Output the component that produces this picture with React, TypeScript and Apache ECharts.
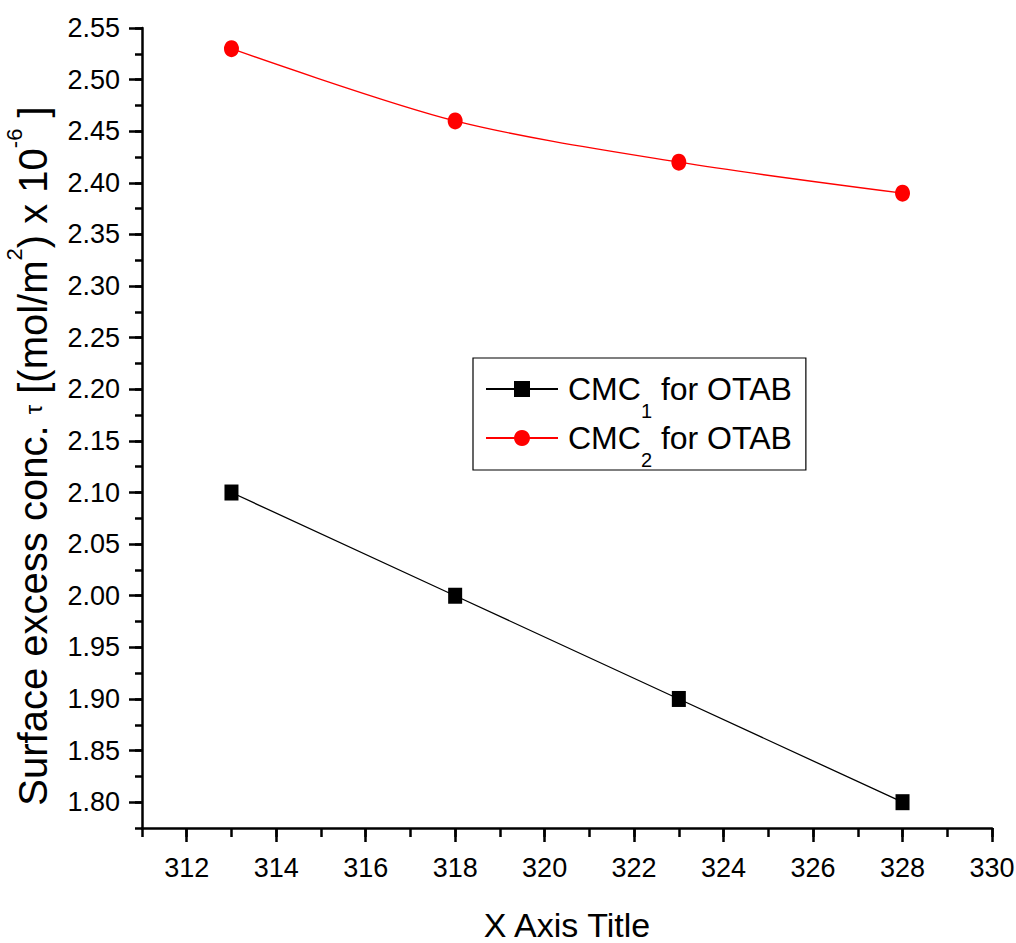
import React, { useEffect, useRef } from "react";
import * as echarts from "echarts";

const xValues = [313, 318, 323, 328];
const cmc1Values = [2.1, 2.0, 1.9, 1.8];
const cmc2Values = [2.53, 2.46, 2.42, 2.39];
const seriesNames = ["CMC1 for OTAB", "CMC2 for OTAB"];
const xMajorTicks = [312, 314, 316, 318, 320, 322, 324, 326, 328, 330];
const yMajorTicks = [1.8, 1.85, 1.9, 1.95, 2.0, 2.05, 2.1, 2.15, 2.2, 2.25, 2.3, 2.35, 2.4, 2.45, 2.5, 2.55];

const FONT = "'Liberation Sans', Arial, sans-serif";

export default function App() {
  const ref = useRef<HTMLDivElement>(null);
  useEffect(() => {
    const chart = echarts.init(ref.current!, null, { renderer: "svg" });
    const axisCommon = {
      axisLine: { show: true, lineStyle: { color: "#000", width: 2.5 } },
      splitLine: { show: false },
    };
    chart.setOption({
      animation: false,
      backgroundColor: "#fff",
      grid: { left: 142, right: 24, top: 28, bottom: 115, containLabel: false, outerBoundsMode: "none" },
      xAxis: [
        {
          type: "value",
          min: 311,
          max: 330,
          ...axisCommon,
          axisTick: { show: true, length: 14, lineStyle: { color: "#000", width: 2.5 }, customValues: xMajorTicks },
          axisLabel: {
            show: true,
            customValues: xMajorTicks,
            color: "#000",
            fontSize: 27,
            fontFamily: FONT,
            margin: 26,
          },
          name: "X Axis Title",
          nameLocation: "middle",
          nameGap: 80,
          nameTextStyle: { color: "#000", fontSize: 34, fontFamily: FONT },
        },
        {
          type: "value",
          min: 311,
          max: 330,
          interval: 1,
          position: "bottom",
          axisLine: { show: false },
          splitLine: { show: false },
          axisTick: { show: true, length: 9, lineStyle: { color: "#000", width: 2.5 } },
          axisLabel: { show: false },
        },
      ],
      yAxis: [
        {
          type: "value",
          min: 1.775,
          max: 2.55,
          ...axisCommon,
          axisTick: { show: true, length: 13, lineStyle: { color: "#000", width: 2.5 }, customValues: yMajorTicks },
          axisLabel: {
            show: true,
            customValues: yMajorTicks,
            color: "#000",
            fontSize: 27,
            fontFamily: FONT,
            margin: 22,
            formatter: (v: number) => v.toFixed(2),
          },
        },
        {
          type: "value",
          min: 1.775,
          max: 2.55,
          interval: 0.025,
          position: "left",
          axisLine: { show: false },
          splitLine: { show: false },
          axisTick: { show: true, length: 7, lineStyle: { color: "#000", width: 2.5 } },
          axisLabel: { show: false },
        },
      ],
      legend: {
        show: true,
        orient: "vertical",
        left: 473,
        top: 358,
        padding: [7, 14, 0, 12],
        borderColor: "#000",
        borderWidth: 1.2,
        itemWidth: 72,
        itemHeight: 20,
        itemGap: -7,
        data: seriesNames,
        formatter: (name: string) =>
          name === seriesNames[0]
            ? "{m|CMC}{s|1}{m| for OTAB}"
            : "{m|CMC}{s|2}{m| for OTAB}",
        textStyle: {
          color: "#000",
          fontFamily: FONT,
          fontSize: 32,
          lineHeight: 48,
          padding: [0, 0, 0, 5],
          rich: {
            m: { fontSize: 32, fontFamily: FONT, color: "#000", lineHeight: 48, verticalAlign: "middle" },
            s: { fontSize: 20, fontFamily: FONT, color: "#000", lineHeight: 12, padding: [36, 0, 0, 0], verticalAlign: "top" },
          },
        },
      },
      graphic: [
        {
          type: "text",
          x: 33,
          y: 456,
          rotation: Math.PI / 2,
          style: {
            text: "{m|Surface excess conc. }{t|τ}{m| [(mol/m}{s|2}{m|) x 10}{s|-6}{m| ]}",
            align: "center",
            verticalAlign: "middle",
            fill: "#000",
            rich: {
              m: { fontSize: 40, fontFamily: FONT, fill: "#000", lineHeight: 60, verticalAlign: "middle" },
              t: { fontSize: 24, fontFamily: FONT, fill: "#000", lineHeight: 24, verticalAlign: "middle" },
              s: { fontSize: 22, fontFamily: FONT, fill: "#000", lineHeight: 26, verticalAlign: "top" },
            },
          },
        },
      ],
      series: [
        {
          name: seriesNames[0],
          type: "line",
          xAxisIndex: 0,
          yAxisIndex: 0,
          data: xValues.map((x, i) => [x, cmc1Values[i]]),
          symbol: "rect",
          symbolSize: [14, 16],
          itemStyle: { color: "#000" },
          lineStyle: { color: "#000", width: 1.3 },
        },
        {
          name: seriesNames[1],
          type: "line",
          xAxisIndex: 0,
          yAxisIndex: 0,
          data: xValues.map((x, i) => [x, cmc2Values[i]]),
          symbol: "circle",
          symbolSize: [15, 17],
          smooth: 0.3,
          itemStyle: { color: "#ff0000" },
          lineStyle: { color: "#ff0000", width: 1.3 },
        },
      ],
    });
    return () => chart.dispose();
  }, []);
  return (
    <div
      ref={ref}
      style={{ position: "fixed", left: 0, top: 0, width: 1016, height: 943, background: "#fff" }}
    />
  );
}
